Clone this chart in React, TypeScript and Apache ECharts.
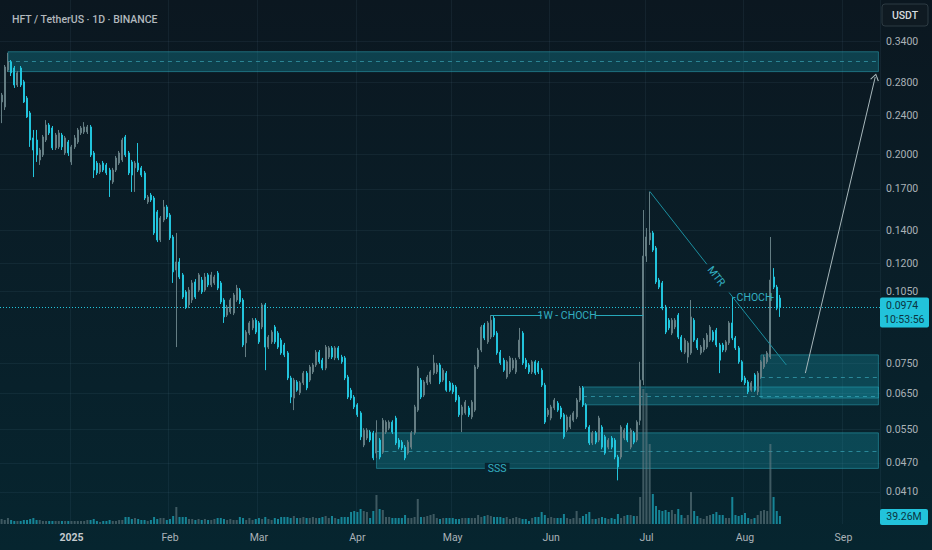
import React, { useEffect, useRef } from 'react';
import * as echarts from 'echarts';

// ---------- data ----------
const START_DATE = '2024-12-10';
const AXIS_DAYS = 277; // categories shown on the x axis (through 2025-09-12)

const opens = [
  0.2554, 0.2495, 0.2969, 0.3081, 0.2996, 0.2766, 0.2996, 0.2807, 0.2602, 0.2426,
  0.2158, 0.2137, 0.1946, 0.1992, 0.2137, 0.2293, 0.2261, 0.2059, 0.2069, 0.2188,
  0.2011, 0.2117, 0.1928, 0.2069, 0.2117, 0.2209, 0.2219, 0.2219, 0.2272, 0.2011,
  0.1918, 0.1839, 0.1918, 0.1901, 0.1856, 0.1755, 0.1856, 0.1918, 0.1946, 0.2168,
  0.2011, 0.1928, 0.1875, 0.1918, 0.1875, 0.1831, 0.1598, 0.1651, 0.1628, 0.1525,
  0.1337, 0.1468, 0.1561, 0.1503, 0.1356, 0.1161, 0.1206, 0.1135, 0.1048, 0.0986,
  0.1009, 0.1098, 0.1057, 0.1108, 0.1057, 0.1135, 0.1083, 0.1093, 0.1145, 0.1093,
  0.1009, 0.0940, 0.0954, 0.0949, 0.1009, 0.1057, 0.1009, 0.0825, 0.0864, 0.0885,
  0.0918, 0.0906, 0.0889, 0.0986, 0.0809, 0.0829, 0.0889, 0.0864, 0.0836, 0.0817,
  0.0787, 0.0700, 0.0637, 0.0687, 0.0653, 0.0684, 0.0716, 0.0693, 0.0720, 0.0744,
  0.0790, 0.0761, 0.0733, 0.0772, 0.0806, 0.0769, 0.0806, 0.0772, 0.0769, 0.0703,
  0.0661, 0.0640, 0.0617, 0.0594, 0.0511, 0.0528, 0.0543, 0.0541, 0.0492, 0.0523,
  0.0494, 0.0543, 0.0553, 0.0569, 0.0580, 0.0523, 0.0518, 0.0506, 0.0492, 0.0506,
  0.0541, 0.0602, 0.0693, 0.0646, 0.0684, 0.0687, 0.0716, 0.0720, 0.0744, 0.0693,
  0.0716, 0.0684, 0.0677, 0.0671, 0.0640, 0.0589, 0.0594, 0.0608, 0.0583, 0.0602,
  0.0737, 0.0798, 0.0897, 0.0829, 0.0848, 0.0927, 0.0864, 0.0790, 0.0761, 0.0703,
  0.0720, 0.0733, 0.0720, 0.0772, 0.0864, 0.0761, 0.0744, 0.0720, 0.0755, 0.0751,
  0.0726, 0.0677, 0.0589, 0.0580, 0.0608, 0.0622, 0.0608, 0.0589, 0.0548, 0.0556,
  0.0574, 0.0583, 0.0631, 0.0668, 0.0617, 0.0556, 0.0516, 0.0541, 0.0523, 0.0556,
  0.0531, 0.0506, 0.0528, 0.0523, 0.0483, 0.0483, 0.0528, 0.0561, 0.0506, 0.0541,
  0.0523, 0.0574, 0.0693, 0.1240, 0.1337, 0.1382, 0.1288, 0.1108, 0.1093, 0.0976,
  0.0918, 0.0864, 0.0889, 0.0940, 0.0848, 0.0790, 0.0772, 0.0787, 0.0918, 0.0836,
  0.0787, 0.0798, 0.0809, 0.0836, 0.0868, 0.0876, 0.0817, 0.0817, 0.0798, 0.0825,
  0.0906, 0.0844, 0.0806, 0.0755, 0.0700, 0.0687, 0.0661, 0.0710, 0.0656, 0.0703,
  0.0737, 0.0755, 0.0772, 0.1124, 0.1072, 0.1018,
];

const closes = [
  0.2639, 0.3010, 0.3081, 0.2928, 0.2766, 0.2928, 0.2766, 0.2554, 0.2381, 0.2137,
  0.2039, 0.1992, 0.2039, 0.2168, 0.2293, 0.2209, 0.2059, 0.2188, 0.2209, 0.2069,
  0.2158, 0.2011, 0.2069, 0.2158, 0.2240, 0.2261, 0.2272, 0.2272, 0.1992, 0.1856,
  0.1831, 0.1901, 0.1856, 0.1831, 0.1771, 0.1856, 0.1964, 0.2011, 0.2137, 0.1992,
  0.1831, 0.1813, 0.1918, 0.1856, 0.1813, 0.1628, 0.1636, 0.1613, 0.1382, 0.1337,
  0.1482, 0.1561, 0.1489, 0.1350, 0.1151, 0.1206, 0.1124, 0.1023, 0.0976, 0.1057,
  0.1093, 0.1023, 0.1135, 0.1048, 0.1124, 0.1083, 0.1135, 0.1124, 0.1067, 0.1000,
  0.0932, 0.0976, 0.1009, 0.1033, 0.1067, 0.1000, 0.0817, 0.0868, 0.0906, 0.0918,
  0.0868, 0.0829, 0.0986, 0.0809, 0.0848, 0.0868, 0.0829, 0.0809, 0.0787, 0.0780,
  0.0700, 0.0640, 0.0693, 0.0661, 0.0684, 0.0716, 0.0668, 0.0737, 0.0744, 0.0790,
  0.0755, 0.0733, 0.0809, 0.0806, 0.0772, 0.0806, 0.0769, 0.0755, 0.0700, 0.0640,
  0.0637, 0.0611, 0.0589, 0.0531, 0.0548, 0.0548, 0.0523, 0.0481, 0.0541, 0.0483,
  0.0574, 0.0569, 0.0569, 0.0543, 0.0516, 0.0506, 0.0504, 0.0481, 0.0518, 0.0541,
  0.0611, 0.0733, 0.0640, 0.0687, 0.0703, 0.0720, 0.0751, 0.0744, 0.0687, 0.0726,
  0.0661, 0.0661, 0.0656, 0.0631, 0.0589, 0.0611, 0.0625, 0.0589, 0.0625, 0.0737,
  0.0798, 0.0889, 0.0844, 0.0906, 0.0918, 0.0856, 0.0787, 0.0751, 0.0726, 0.0755,
  0.0769, 0.0761, 0.0761, 0.0836, 0.0751, 0.0737, 0.0720, 0.0755, 0.0716, 0.0720,
  0.0677, 0.0569, 0.0602, 0.0611, 0.0631, 0.0602, 0.0583, 0.0531, 0.0583, 0.0583,
  0.0594, 0.0631, 0.0668, 0.0617, 0.0556, 0.0516, 0.0541, 0.0518, 0.0580, 0.0506,
  0.0492, 0.0523, 0.0506, 0.0483, 0.0461, 0.0556, 0.0548, 0.0523, 0.0548, 0.0518,
  0.0569, 0.0693, 0.1240, 0.1356, 0.1382, 0.1275, 0.1098, 0.1072, 0.0971, 0.0868,
  0.0885, 0.0918, 0.0918, 0.0848, 0.0798, 0.0836, 0.0825, 0.0932, 0.0836, 0.0806,
  0.0809, 0.0836, 0.0856, 0.0889, 0.0836, 0.0817, 0.0761, 0.0798, 0.0829, 0.0906,
  0.0844, 0.0806, 0.0755, 0.0693, 0.0684, 0.0656, 0.0684, 0.0661, 0.0716, 0.0755,
  0.0772, 0.0787, 0.1108, 0.1072, 0.0971, 0.0974,
];

const lows = [
  0.2313, 0.2460, 0.2941, 0.2885, 0.2728, 0.2740, 0.2740, 0.2542, 0.2370, 0.2069,
  0.1796, 0.1928, 0.1901, 0.1973, 0.2117, 0.2188, 0.2039, 0.2039, 0.2049, 0.2039,
  0.1992, 0.1983, 0.1901, 0.2049, 0.2098, 0.2188, 0.2198, 0.2198, 0.1973, 0.1788,
  0.1813, 0.1822, 0.1839, 0.1813, 0.1636, 0.1739, 0.1839, 0.1901, 0.1928, 0.1973,
  0.1813, 0.1675, 0.1675, 0.1839, 0.1796, 0.1613, 0.1583, 0.1598, 0.1369, 0.1324,
  0.1324, 0.1454, 0.1475, 0.1337, 0.1093, 0.0809, 0.1113, 0.1014, 0.0967, 0.0971,
  0.0995, 0.1014, 0.1048, 0.1038, 0.1048, 0.1072, 0.1072, 0.1083, 0.1057, 0.0990,
  0.0906, 0.0932, 0.0945, 0.0940, 0.1000, 0.0990, 0.0809, 0.0772, 0.0856, 0.0876,
  0.0860, 0.0821, 0.0880, 0.0726, 0.0802, 0.0821, 0.0821, 0.0802, 0.0780, 0.0772,
  0.0693, 0.0622, 0.0602, 0.0656, 0.0646, 0.0677, 0.0661, 0.0687, 0.0713, 0.0737,
  0.0748, 0.0726, 0.0726, 0.0765, 0.0765, 0.0761, 0.0761, 0.0748, 0.0693, 0.0634,
  0.0631, 0.0605, 0.0583, 0.0523, 0.0506, 0.0523, 0.0518, 0.0476, 0.0481, 0.0478,
  0.0490, 0.0538, 0.0548, 0.0538, 0.0511, 0.0501, 0.0499, 0.0476, 0.0488, 0.0501,
  0.0536, 0.0597, 0.0634, 0.0640, 0.0677, 0.0680, 0.0710, 0.0713, 0.0680, 0.0687,
  0.0656, 0.0656, 0.0649, 0.0625, 0.0583, 0.0543, 0.0589, 0.0583, 0.0577, 0.0597,
  0.0730, 0.0790, 0.0836, 0.0821, 0.0840, 0.0848, 0.0780, 0.0744, 0.0720, 0.0697,
  0.0713, 0.0726, 0.0713, 0.0765, 0.0744, 0.0730, 0.0713, 0.0713, 0.0710, 0.0713,
  0.0671, 0.0564, 0.0583, 0.0574, 0.0602, 0.0597, 0.0577, 0.0526, 0.0543, 0.0551,
  0.0569, 0.0577, 0.0625, 0.0611, 0.0551, 0.0511, 0.0511, 0.0513, 0.0518, 0.0501,
  0.0488, 0.0501, 0.0501, 0.0478, 0.0433, 0.0478, 0.0523, 0.0518, 0.0501, 0.0513,
  0.0518, 0.0561, 0.0677, 0.1206, 0.1306, 0.1264, 0.1088, 0.1062, 0.0962, 0.0860,
  0.0876, 0.0856, 0.0880, 0.0840, 0.0790, 0.0783, 0.0751, 0.0780, 0.0829, 0.0798,
  0.0780, 0.0790, 0.0802, 0.0829, 0.0829, 0.0809, 0.0716, 0.0790, 0.0790, 0.0817,
  0.0836, 0.0798, 0.0748, 0.0687, 0.0677, 0.0649, 0.0656, 0.0656, 0.0646, 0.0697,
  0.0730, 0.0748, 0.0765, 0.1062, 0.0962, 0.0932,
];

const highs = [
  0.2665, 0.3038, 0.3214, 0.3110, 0.3024, 0.2955, 0.3024, 0.2833, 0.2627, 0.2448,
  0.2240, 0.2240, 0.2059, 0.2188, 0.2346, 0.2314, 0.2282, 0.2209, 0.2240, 0.2209,
  0.2178, 0.2137, 0.2088, 0.2188, 0.2261, 0.2282, 0.2324, 0.2293, 0.2293, 0.2030,
  0.1937, 0.1918, 0.1937, 0.1918, 0.1875, 0.1875, 0.1983, 0.2030, 0.2158, 0.2188,
  0.2030, 0.1946, 0.1937, 0.2107, 0.1892, 0.1848, 0.1651, 0.1667, 0.1643, 0.1539,
  0.1496, 0.1613, 0.1576, 0.1517, 0.1369, 0.1382, 0.1228, 0.1145, 0.1057, 0.1072,
  0.1108, 0.1113, 0.1145, 0.1124, 0.1145, 0.1145, 0.1151, 0.1135, 0.1156, 0.1103,
  0.1018, 0.0986, 0.1018, 0.1043, 0.1083, 0.1067, 0.1018, 0.0876, 0.0914, 0.0927,
  0.0927, 0.0914, 0.0995, 0.0995, 0.0856, 0.0876, 0.0897, 0.0872, 0.0844, 0.0825,
  0.0794, 0.0707, 0.0700, 0.0693, 0.0690, 0.0723, 0.0723, 0.0744, 0.0751, 0.0798,
  0.0798, 0.0769, 0.0817, 0.0813, 0.0813, 0.0813, 0.0813, 0.0780, 0.0776, 0.0710,
  0.0668, 0.0646, 0.0622, 0.0599, 0.0553, 0.0553, 0.0548, 0.0546, 0.0574, 0.0528,
  0.0580, 0.0574, 0.0574, 0.0574, 0.0586, 0.0528, 0.0523, 0.0511, 0.0523, 0.0546,
  0.0617, 0.0740, 0.0700, 0.0693, 0.0710, 0.0726, 0.0780, 0.0751, 0.0751, 0.0733,
  0.0723, 0.0690, 0.0684, 0.0677, 0.0646, 0.0617, 0.0631, 0.0614, 0.0631, 0.0744,
  0.0806, 0.0897, 0.0906, 0.0914, 0.0940, 0.0936, 0.0872, 0.0798, 0.0769, 0.0761,
  0.0776, 0.0769, 0.0769, 0.0885, 0.0872, 0.0769, 0.0751, 0.0761, 0.0761, 0.0758,
  0.0733, 0.0684, 0.0608, 0.0617, 0.0637, 0.0628, 0.0614, 0.0594, 0.0589, 0.0589,
  0.0599, 0.0637, 0.0674, 0.0674, 0.0622, 0.0561, 0.0546, 0.0546, 0.0586, 0.0561,
  0.0536, 0.0528, 0.0533, 0.0528, 0.0488, 0.0561, 0.0553, 0.0567, 0.0553, 0.0546,
  0.0574, 0.0755, 0.1539, 0.1414, 0.1675, 0.1395, 0.1300, 0.1119, 0.1103, 0.0986,
  0.0927, 0.0927, 0.0927, 0.0949, 0.0856, 0.0844, 0.0832, 0.1009, 0.0927, 0.0844,
  0.0817, 0.0844, 0.0864, 0.0897, 0.0876, 0.0885, 0.0825, 0.0825, 0.0836, 0.0914,
  0.1023, 0.0852, 0.0813, 0.0761, 0.0707, 0.0693, 0.0690, 0.0716, 0.0723, 0.0761,
  0.0780, 0.0794, 0.1356, 0.1172, 0.1083, 0.1033,
];

// volume in millions of HFT
const volumes = [
  24.5, 19.6, 29.4, 19.6, 14.7, 14.7, 14.7, 19.6, 19.6, 24.5,
  29.4, 19.6, 19.6, 14.7, 14.7, 14.7, 14.7, 14.7, 14.7, 14.7,
  14.7, 14.7, 14.7, 14.7, 14.7, 14.7, 14.7, 19.6, 19.6, 24.5,
  14.7, 9.8, 14.7, 14.7, 19.6, 14.7, 14.7, 19.6, 19.6, 34.3,
  34.3, 24.5, 29.4, 24.5, 19.6, 19.6, 14.7, 19.6, 34.3, 24.5,
  29.4, 29.4, 19.6, 24.5, 39.2, 83.3, 34.3, 34.3, 34.3, 24.5,
  24.5, 19.6, 24.5, 19.6, 24.5, 19.6, 19.6, 24.5, 29.4, 29.4,
  24.5, 19.6, 24.5, 19.6, 19.6, 34.3, 29.4, 19.6, 29.4, 19.6,
  24.5, 29.4, 24.5, 34.3, 24.5, 19.6, 29.4, 24.5, 34.3, 34.3,
  34.3, 29.4, 39.2, 29.4, 29.4, 34.3, 29.4, 29.4, 34.3, 29.4,
  29.4, 34.3, 39.2, 29.4, 39.2, 29.4, 24.5, 34.3, 34.3, 34.3,
  58.8, 63.7, 58.8, 73.5, 63.7, 58.8, 29.4, 63.7, 142.1, 73.5,
  68.6, 34.3, 34.3, 29.4, 29.4, 29.4, 29.4, 44.1, 29.4, 29.4,
  34.3, 122.5, 34.3, 34.3, 39.2, 44.1, 49.0, 29.4, 24.5, 29.4,
  29.4, 29.4, 29.4, 24.5, 24.5, 29.4, 29.4, 29.4, 29.4, 29.4,
  44.1, 34.3, 39.2, 44.1, 39.2, 34.3, 34.3, 34.3, 29.4, 34.3,
  24.5, 29.4, 34.3, 29.4, 24.5, 24.5, 14.7, 29.4, 34.3, 34.3,
  58.8, 44.1, 29.4, 34.3, 29.4, 29.4, 29.4, 49.0, 29.4, 24.5,
  29.4, 63.7, 29.4, 39.2, 49.0, 58.8, 24.5, 24.5, 29.4, 34.3,
  29.4, 24.5, 29.4, 24.5, 49.0, 29.4, 39.2, 44.1, 44.1, 39.2,
  39.2, 132.3, 661.5, 641.9, 392.0, 147.0, 88.2, 68.6, 63.7, 68.6,
  58.8, 68.6, 49.0, 73.5, 44.1, 29.4, 44.1, 156.8, 63.7, 39.2,
  29.4, 24.5, 39.2, 44.1, 49.0, 58.8, 44.1, 44.1, 29.4, 29.4,
  132.3, 44.1, 39.2, 44.1, 53.9, 29.4, 24.5, 29.4, 44.1, 63.7,
  68.6, 63.7, 392.0, 132.3, 63.7, 39.26,
];

const priceTicks = [0.34, 0.28, 0.24, 0.2, 0.17, 0.14, 0.12, 0.105, 0.075, 0.065, 0.055, 0.047, 0.041];
const lastPrice = 0.0974;
const countdownText = '10:53:56';
const lastVolumeText = '39.26M';
const titleText = 'HFT / TetherUS · 1D · BINANCE';
const quoteText = 'USDT';
const monthNames = ['Jan', 'Feb', 'Mar', 'Apr', 'May', 'Jun', 'Jul', 'Aug', 'Sep', 'Oct', 'Nov', 'Dec'];

// supply / demand zones: start date, top, bottom, dashed mid level
const zoneStarts = ['2024-12-12', '2025-06-11', '2025-08-06', '2025-04-07'];
const zoneTops = [0.3233, 0.0671, 0.078, 0.0541];
const zoneBottoms = [0.2945, 0.0617, 0.0637, 0.0458];
const zoneMids = [0.3085, 0.0643, 0.0703, 0.0497];

// annotations
const choch1WLevel = 0.094;
const choch1WDates = ['2025-05-13', '2025-05-29', '2025-06-15', '2025-06-30'];
const choch1WTextDate = '2025-06-06';
const chochLevel = 0.1023;
const chochDates = ['2025-07-28', '2025-07-29', '2025-08-09', '2025-08-10'];
const chochTextDate = '2025-08-04';
const mtrDates = ['2025-07-02', '2025-07-20', '2025-07-27', '2025-08-14'];
const mtrPrices = [0.168, 0.1193, 0.1045, 0.0744];
const mtrTextDate = '2025-07-23';
const mtrTextPrice = 0.1128;
const arrowDates = ['2025-08-20', '2025-09-11'];
const arrowPrices = [0.0716, 0.2872];
const sssDate = '2025-05-15';
const sssPrice = 0.0458;

// ---------- styles ----------
const FONT = 'Roboto, "Noto Sans", sans-serif';
const UP = '#647d83';
const DOWN = '#22c4dc';
const VOL_UP = 'rgba(100,125,131,0.6)';
const VOL_DOWN = 'rgba(34,196,220,0.6)';
const GRID = 'rgba(120,160,180,0.085)';
const TEAL = '#27a8ba';
const AXIS_TEXT = '#aab2b7';

function buildDates(): string[] {
  const out: string[] = [];
  const [y, m, d] = START_DATE.split('-').map(Number);
  const t0 = Date.UTC(y, m - 1, d);
  for (let i = 0; i < AXIS_DAYS; i++) {
    out.push(new Date(t0 + i * 86400000).toISOString().slice(0, 10));
  }
  return out;
}

export default function App() {
  const ref = useRef<HTMLDivElement>(null);

  useEffect(() => {
    const el = ref.current;
    if (!el) return;
    const chart = echarts.init(el, undefined, { renderer: 'svg' });
    const dates = buildDates();
    const lastDate = dates[dates.length - 1];
    const isMonthStart = (_i: number, v: string) => v.slice(8, 10) === '01';

    const candles = opens.map((o, i) => [o, closes[i], lows[i], highs[i]]);
    const volData = volumes.map((v, i) => ({
      value: v,
      itemStyle: { color: closes[i] >= opens[i] ? VOL_UP : VOL_DOWN },
    }));

    const seg = (d0: string, p0: number, d1: string, p1: number, style: any) => [
      { coord: [d0, p0], lineStyle: style },
      { coord: [d1, p1] },
    ];
    const lineTeal = { color: TEAL, width: 1, type: 'solid' };
    const mtrStyle = { color: '#1b8e9f', width: 1, type: 'solid' };
    const dashStyle = { color: 'rgba(70,190,210,0.55)', width: 1, type: [4, 4] };

    const textPoint = (date: string, price: number, text: string, extra: any = {}) => ({
      coord: [date, price],
      symbolSize: 0,
      itemStyle: { color: 'transparent' },
      label: {
        show: true,
        position: 'inside',
        formatter: text,
        color: '#33afc1',
        fontSize: 10.5,
        fontFamily: FONT,
        ...extra,
      },
    });

    const option: any = {
      animation: false,
      backgroundColor: {
        type: 'linear', x: 0, y: 0, x2: 0, y2: 1,
        colorStops: [
          { offset: 0, color: '#0b1720' },
          { offset: 0.55, color: '#091f29' },
          { offset: 1, color: '#06252f' },
        ],
      },
      textStyle: { fontFamily: FONT },
      title: {
        text: titleText,
        left: 7,
        top: 9,
        textStyle: { color: '#b2b8bd', fontSize: 10.5, fontWeight: 500, fontFamily: FONT },
      },
      grid: { left: 0, right: 52, top: 0, bottom: 26 },
      xAxis: {
        type: 'category',
        data: dates,
        boundaryGap: true,
        axisLine: { show: false },
        axisTick: { show: false },
        axisLabel: {
          interval: isMonthStart,
          margin: 8,
          color: AXIS_TEXT,
          fontSize: 10.5,
          fontFamily: FONT,
          formatter: (v: string) => {
            const m = Number(v.slice(5, 7));
            return m === 1 ? '{y|' + v.slice(0, 4) + '}' : monthNames[m - 1];
          },
          rich: { y: { fontWeight: 'bold', fontSize: 10.5, color: '#c3c9cd', fontFamily: FONT } },
        },
        splitLine: { show: true, interval: isMonthStart, lineStyle: { color: GRID, width: 1 } },
      },
      yAxis: [
        {
          type: 'log',
          logBase: 10,
          min: 0.035283,
          max: 0.4121,
          position: 'right',
          axisLine: { show: false },
          axisTick: { show: false },
          axisLabel: { show: false },
          splitLine: { show: false },
        },
        {
          type: 'value',
          min: 0,
          max: 2567.6,
          show: false,
          splitLine: { show: false },
        },
      ],
      series: [
        {
          // background layer: grid lines with price labels, zones
          type: 'line',
          data: [],
          yAxisIndex: 0,
          silent: true,
          z: 1,
          markLine: {
            silent: true,
            z: 1,
            precision: 6,
            symbol: ['none', 'none'],
            animation: false,
            data: [
              ...priceTicks.map((v) => ({
                yAxis: v,
                lineStyle: { color: GRID, width: 1, type: 'solid' },
                label: {
                  show: true,
                  position: 'end',
                  distance: 6,
                  formatter: v.toFixed(4),
                  color: AXIS_TEXT,
                  fontSize: 10.5,
                  fontFamily: FONT,
                },
              })),
              ...zoneStarts.map((d, i) => {
                const s = seg(d, zoneMids[i], lastDate, zoneMids[i], dashStyle);
                (s[0] as any).label = { show: false };
                return s;
              }),
            ],
          },
          markArea: {
            silent: true,
            z: 1,
            itemStyle: {
              color: 'rgba(22,158,178,0.3)',
              borderColor: 'rgba(50,185,205,0.45)',
              borderWidth: 1,
            },
            data: zoneStarts.map((d, i) => [
              { xAxis: d, yAxis: zoneTops[i] },
              { xAxis: lastDate, yAxis: zoneBottoms[i] },
            ]),
          },
        },
        {
          name: 'Volume',
          type: 'bar',
          xAxisIndex: 0,
          yAxisIndex: 1,
          data: volData,
          barWidth: 2,
          silent: true,
          z: 2,
        },
        {
          name: 'HFTUSDT',
          type: 'candlestick',
          xAxisIndex: 0,
          yAxisIndex: 0,
          data: candles,
          barWidth: 1.5,
          silent: true,
          z: 4,
          itemStyle: {
            color: UP,
            borderColor: UP,
            color0: DOWN,
            borderColor0: DOWN,
            borderWidth: 1,
          },
          markLine: {
            silent: true,
            z: 6,
            precision: 6,
            symbol: ['none', 'none'],
            label: { show: false },
            data: [
              { yAxis: lastPrice, lineStyle: { color: DOWN, width: 1, type: [1, 2] }, label: { show: false } },
              seg(choch1WDates[0], choch1WLevel, choch1WDates[1], choch1WLevel, lineTeal),
              seg(choch1WDates[2], choch1WLevel, choch1WDates[3], choch1WLevel, lineTeal),
              seg(chochDates[0], chochLevel, chochDates[1], chochLevel, lineTeal),
              seg(chochDates[2], chochLevel, chochDates[3], chochLevel, lineTeal),
              seg(mtrDates[0], mtrPrices[0], mtrDates[1], mtrPrices[1], mtrStyle),
              seg(mtrDates[2], mtrPrices[2], mtrDates[3], mtrPrices[3], mtrStyle),
              [
                {
                  coord: [arrowDates[0], arrowPrices[0]],
                  symbol: 'none',
                  lineStyle: { color: '#a7b7bb', width: 1, type: 'solid' },
                },
                {
                  coord: [arrowDates[1], arrowPrices[1]],
                  symbol: 'path://M0,10 L5,0 L10,10 L8.8,10.6 L5,2.6 L1.2,10.6 Z',
                  symbolSize: [9, 7],
                  itemStyle: { color: '#a7b7bb' },
                },
              ],
            ],
          },
          markPoint: {
            silent: true,
            z: 7,
            data: [
              textPoint(choch1WTextDate, choch1WLevel, '1W - CHOCH'),
              textPoint(chochTextDate, chochLevel, 'CHOCH'),
              textPoint(mtrTextDate, mtrTextPrice, 'MTR', { rotate: -52 }),
              textPoint(sssDate, sssPrice, 'SSS', { backgroundColor: '#072430', padding: [0, 3] }),
            ],
          },
        },
      ],
    };

    chart.setOption(option);

    const py = chart.convertToPixel({ yAxisIndex: 0 } as any, lastPrice) as unknown as number;
    const vy = chart.convertToPixel({ yAxisIndex: 1 } as any, volumes[volumes.length - 1]) as unknown as number;

    chart.setOption({
      graphic: [
        {
          type: 'group',
          x: 882,
          y: 4,
          children: [
            { type: 'rect', shape: { x: 0, y: 0, width: 46, height: 22, r: 3 }, style: { fill: '#0f1a22', stroke: '#2d3a42', lineWidth: 1 } },
            { type: 'text', x: 23, y: 11, style: { text: quoteText, fill: '#d6dbde', font: `500 10.5px ${FONT}`, align: 'center', verticalAlign: 'middle' } },
          ],
        },
        {
          type: 'group',
          x: 880,
          y: py - 10,
          children: [
            { type: 'rect', shape: { x: 0, y: 0, width: 49, height: 30, r: 2 }, style: { fill: '#22c3db' } },
            { type: 'text', x: 6, y: 8, style: { text: lastPrice.toFixed(4), fill: '#0a3441', font: `10.5px ${FONT}`, verticalAlign: 'middle' } },
            { type: 'text', x: 4, y: 22, style: { text: countdownText, fill: '#0a3441', font: `10.5px ${FONT}`, verticalAlign: 'middle' } },
          ],
        },
        {
          type: 'group',
          x: 880,
          y: vy - 7,
          children: [
            { type: 'rect', shape: { x: 0, y: 0, width: 48, height: 16, r: 2 }, style: { fill: '#22c3db' } },
            { type: 'text', x: 24, y: 8, style: { text: lastVolumeText, fill: '#0a3441', font: `10.5px ${FONT}`, align: 'center', verticalAlign: 'middle' } },
          ],
        },
      ],
    });

    return () => chart.dispose();
  }, []);

  return <div ref={ref} style={{ position: 'fixed', left: 0, top: 0, width: 932, height: 550 }} />;
}
